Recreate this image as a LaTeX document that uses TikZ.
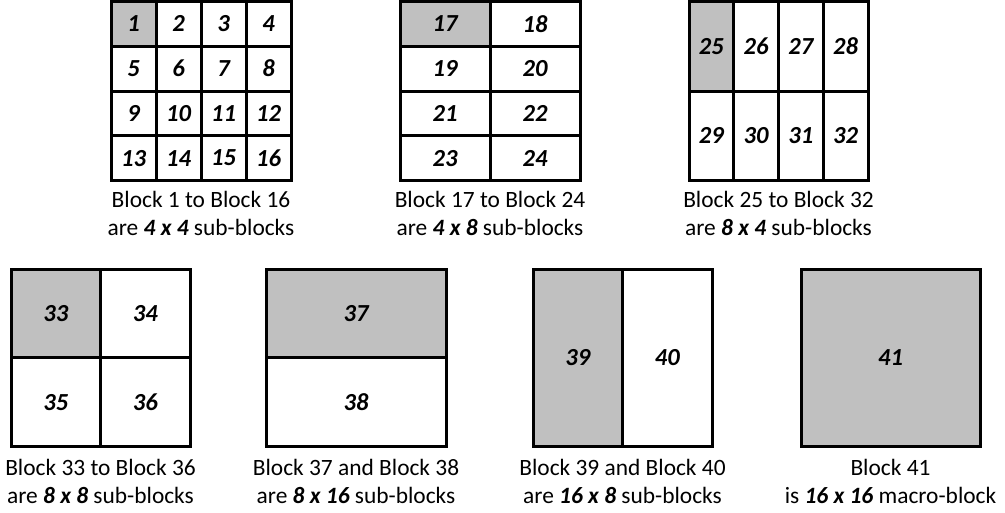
\documentclass[tikz,border=0pt]{standalone}
\usepackage{fontspec}
\setmainfont{Carlito}
\definecolor{shade}{HTML}{C0C0C0}
\newcommand\blockgrid[7]{% x0 y0 ncols nrows w h firstnum
  \foreach \r in {1,...,#4}{%
    \foreach \c in {1,...,#3}{%
      \pgfmathtruncatemacro\num{#7+(\r-1)*#3+\c-1}%
      \ifnum\num=#7\relax\def\fillc{shade}\else\def\fillc{white}\fi
      \node[blockcell, fill=\fillc, minimum width=#5pt, minimum height=#6pt] (b\num)
        at ({#1+(\c-0.5)*#5},{#2+(\r-0.5)*#6}) {\num};
    }%
  }%
}
\begin{document}
\begin{tikzpicture}[x=1pt,y=-1pt]
\tikzset{
  blockcell/.style={draw=black, line width=3pt, inner sep=0pt,
    font=\fontsize{24.5}{28}\selectfont\bfseries\itshape},
  captxt/.style={font=\fontsize{23.4}{28}\selectfont, align=center, inner sep=0pt}
}
\useasboundingbox[fill=white] (0,0) rectangle (1005,512);
% top row
\blockgrid{111}{1.5}{4}{4}{45}{44.75}{1}
\blockgrid{400}{1.5}{2}{4}{90}{44.75}{17}
\blockgrid{689}{1.5}{4}{2}{44.75}{89.5}{25}
% bottom row
\blockgrid{11}{269}{2}{2}{89.5}{88.75}{33}
\blockgrid{266}{269}{1}{2}{180}{88.75}{37}
\blockgrid{533}{269}{2}{1}{89.5}{177.5}{39}
\blockgrid{801}{269}{1}{1}{179}{177.5}{41}
% captions
\node[captxt] (t1) at (201,213) {Block 1 to Block 16\\are \textbf{\textit{4 x 4}} sub-blocks};
\node[captxt] (t2) at (490,213) {Block 17 to Block 24\\are \textbf{\textit{4 x 8}} sub-blocks};
\node[captxt] (t3) at (778.5,213) {Block 25 to Block 32\\are \textbf{\textit{8 x 4}} sub-blocks};
\node[captxt] (t4) at (100.5,481) {Block 33 to Block 36\\are \textbf{\textit{8 x 8}} sub-blocks};
\node[captxt] (t5) at (356,481) {Block 37 and Block 38\\are \textbf{\textit{8 x 16}} sub-blocks};
\node[captxt] (t6) at (622.5,481) {Block 39 and Block 40\\are \textbf{\textit{16 x 8}} sub-blocks};
\node[captxt] (t7) at (890.5,481) {Block 41\\is \textbf{\textit{16 x 16}} macro-block};
\end{tikzpicture}
\end{document}
